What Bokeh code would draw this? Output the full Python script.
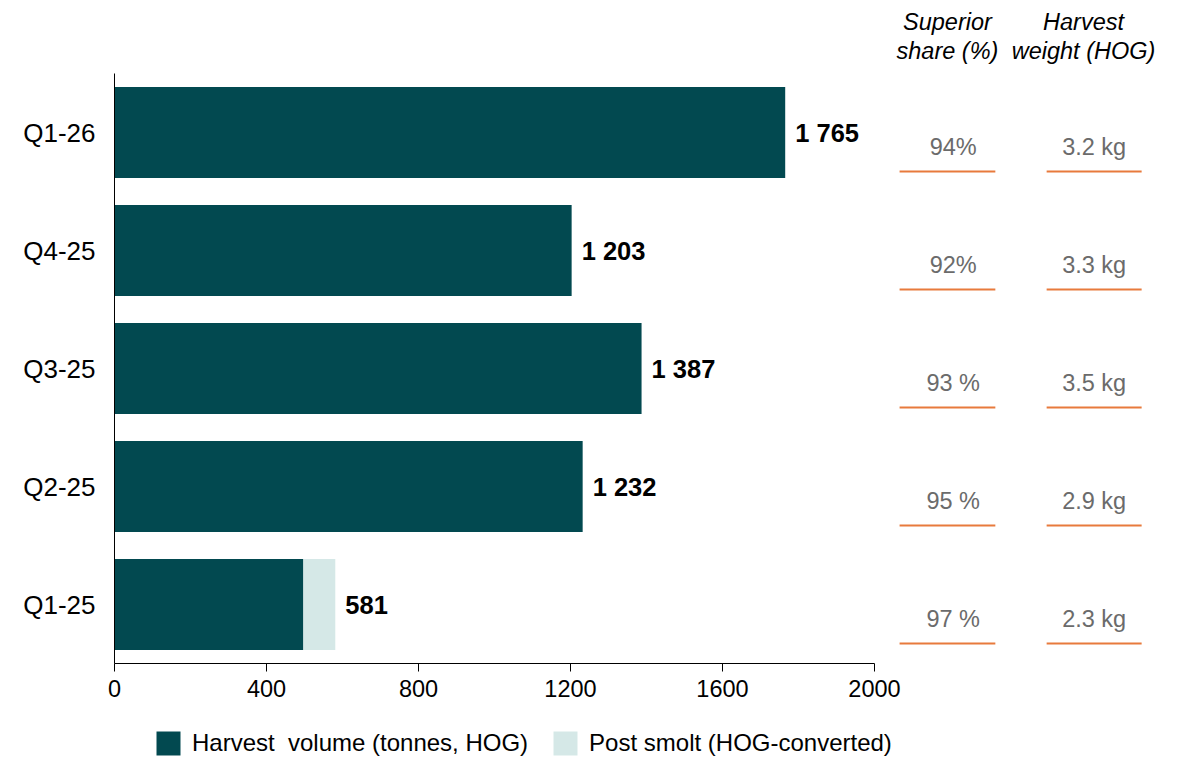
from bokeh.plotting import figure
from bokeh.models import (ColumnDataSource, Range1d, FixedTicker, Legend, LegendItem,
                          LinearAxis)
from bokeh.core.properties import value
from bokeh.embed import file_html
from bokeh.resources import INLINE

# ---------------- data ----------------
quarters = ["Q1-26", "Q4-25", "Q3-25", "Q2-25", "Q1-25"]
harvest_volume = [1765, 1203, 1387, 1232, 497]
post_smolt = [0, 0, 0, 0, 84]
superior_share = ["94%", "92%", "93 %", "95 %", "97 %"]
harvest_weight = ["3.2 kg", "3.3 kg", "3.5 kg", "2.9 kg", "2.3 kg"]
x_ticks = [0, 400, 800, 1200, 1600, 2000]
col_headers = [("Superior", "share (%)"), ("Harvest", "weight (HOG)")]
series_names = ["Harvest  volume (tonnes, HOG)", "Post smolt (HOG-converted)"]

# ---------------- style / layout ----------------
DARK = "#024950"
LIGHT = "#d5e8e7"
ORANGE = "#e87a3c"
GREY = "#6b6b6b"
FONT = "Liberation Sans"

W, H = 1180, 759
AXIS_LEFT_PX = 114
AXIS_TOP_PX, AXIS_BOT_PX = 73, 663
AXIS_MAX, AXIS_PX = 2000, 760

n = len(quarters)
ypos = [n - 1 - i for i in range(n)]           # top row first
unit_px = (AXIS_BOT_PX - AXIS_TOP_PX) / n
y_lo = -0.5 - (H - AXIS_BOT_PX) / unit_px
y_hi = n - 0.5 + AXIS_TOP_PX / unit_px
px_per_x = AXIS_PX / AXIS_MAX
x_lo = -AXIS_LEFT_PX / px_per_x
x_hi = (W - AXIS_LEFT_PX) / px_per_x


def py_to_y(py):
    return n - 0.5 + (AXIS_TOP_PX - py) / unit_px


totals = [h + s for h, s in zip(harvest_volume, post_smolt)]
total_labels = [f"{t:,}".replace(",", " ") for t in totals]

VAL_DY = -0.12
LINE_DY = -0.33
src = ColumnDataSource(dict(
    y=ypos, q=quarters, harvest=harvest_volume, smolt_end=totals,
    total=totals, total_label=total_labels, sup=superior_share, wt=harvest_weight,
    y_val=[y + VAL_DY for y in ypos], y_line=[y + LINE_DY for y in ypos],
))

p = figure(
    width=W, height=H,
    x_range=Range1d(x_lo, x_hi), y_range=Range1d(y_lo, y_hi),
    min_border=0,
    x_axis_location=None, y_axis_location=None,
    output_backend="svg", toolbar_location=None,
)
p.outline_line_color = None
p.grid.visible = False
p.background_fill_color = "white"
p.border_fill_color = "white"

BAR_H = 0.77
r1 = p.hbar(y="y", left=0, right="harvest", height=BAR_H, fill_color=DARK,
            line_color=None, source=src)
r2 = p.hbar(y="y", left="harvest", right="smolt_end", height=BAR_H, fill_color=LIGHT,
            line_color=None, source=src)

p.text(x="total", y="y", text="total_label", source=src, x_offset=10,
       text_font=value(FONT), text_font_style="bold", text_font_size="25.5px",
       text_color="black", text_align="left", text_baseline="middle")

# right-hand columns
HDR1_X, HDR2_X = 2192, 2550
VAL1_X, VAL2_X = 2207, 2578
COL1_SPAN = (2066, 2318)
COL2_SPAN = (2453, 2703)
for cx, field in [(VAL1_X, "sup"), (VAL2_X, "wt")]:
    p.text(x=cx, y="y_val", text=field, source=src,
           text_font=value(FONT), text_font_size="23.5px", text_color=GREY,
           text_align="center", text_baseline="middle")
for (x0, x1) in [COL1_SPAN, COL2_SPAN]:
    p.segment(x0=x0, x1=x1, y0="y_line", y1="y_line", source=src,
              line_color=ORANGE, line_width=2)

hdr = dict(x=[], y=[], t=[])
for cx, lines in zip([HDR1_X, HDR2_X], col_headers):
    for txt, py in zip(lines, [21, 50]):
        hdr["x"].append(cx)
        hdr["y"].append(py_to_y(py))
        hdr["t"].append(txt)
p.text(x="x", y="y", text="t", source=ColumnDataSource(hdr),
       text_font=value(FONT), text_font_style="italic", text_font_size="23.5px",
       text_color="black", text_align="center", text_baseline="middle")

# axes (drawn inside the frame at fixed data locations)
xaxis = LinearAxis(fixed_location=-0.5, bounds=(0, AXIS_MAX),
                   ticker=FixedTicker(ticks=x_ticks))
xaxis.axis_line_color = "black"
xaxis.major_tick_line_color = "black"
xaxis.major_tick_out = 8
xaxis.major_tick_in = 0
xaxis.minor_tick_line_color = None
xaxis.major_label_text_font = FONT
xaxis.major_label_text_font_size = "23.5px"
xaxis.major_label_text_color = "black"
xaxis.major_label_standoff = 8
p.add_layout(xaxis, "below")

yaxis = LinearAxis(fixed_location=0, bounds=(-0.5, n - 0.5), ticker=FixedTicker(ticks=ypos),
                   major_label_overrides={y: q for y, q in zip(ypos, quarters)})
yaxis.axis_line_color = "black"
yaxis.major_tick_line_color = None
yaxis.minor_tick_line_color = None
yaxis.major_tick_out = 0
yaxis.major_tick_in = 0
yaxis.major_label_text_font = FONT
yaxis.major_label_text_font_size = "26px"
yaxis.major_label_text_color = "black"
yaxis.major_label_standoff = 19
p.add_layout(yaxis, "left")

legend = Legend(items=[LegendItem(label=series_names[0], renderers=[r1]),
                       LegendItem(label=series_names[1], renderers=[r2])],
                orientation="horizontal", location=(153, 1),
                glyph_width=30, glyph_height=30, label_height=30,
                label_standoff=9, spacing=22, padding=0, margin=0,
                border_line_color=None, background_fill_alpha=0,
                label_text_font=FONT, label_text_font_size="24px",
                label_text_color="black", label_text_baseline="middle")
p.add_layout(legend, "center")

open("out.html", "w").write(file_html(p, INLINE))
